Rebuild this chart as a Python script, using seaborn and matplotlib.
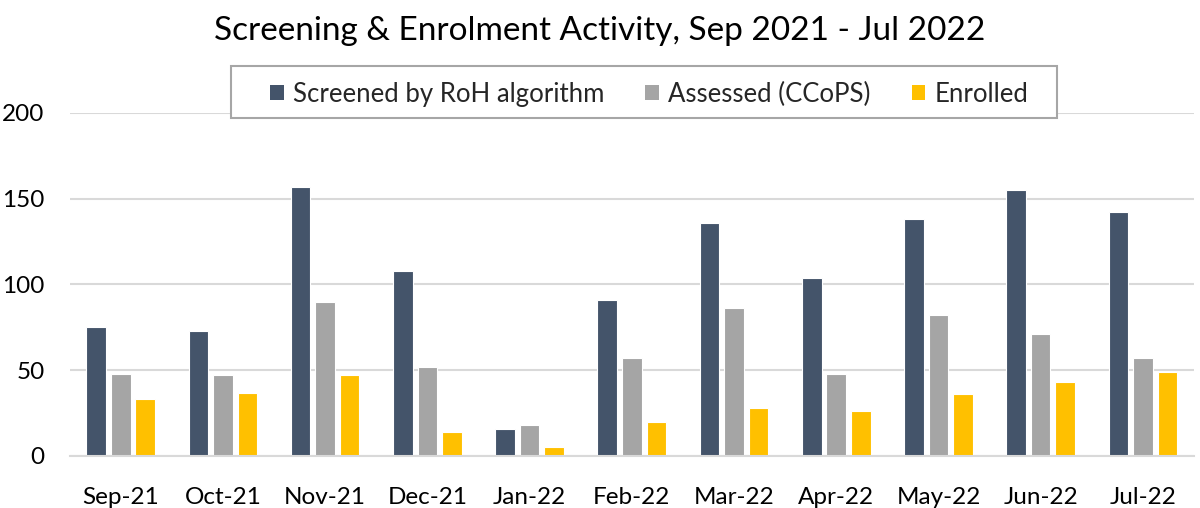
import matplotlib

matplotlib.use("Agg")
import matplotlib.pyplot as plt  # noqa: E402
import pandas as pd  # noqa: E402
import seaborn as sns  # noqa: E402
from matplotlib.patches import Rectangle  # noqa: E402

months = ["Sep-21", "Oct-21", "Nov-21", "Dec-21", "Jan-22", "Feb-22",
          "Mar-22", "Apr-22", "May-22", "Jun-22", "Jul-22"]
screened = [75, 73, 157, 108, 16, 91, 136, 104, 138, 155, 142]
assessed = [48, 47, 90, 52, 18, 57, 86, 48, 82, 71, 57]
enrolled = [33, 37, 47, 14, 5, 20, 28, 26, 36, 43, 49]
series = ["Screened by RoH algorithm", "Assessed (CCoPS)", "Enrolled"]
colors = ["#44546A", "#A5A5A5", "#FFC000"]

df = pd.DataFrame({
    "month": months * 3,
    "series": [s for s in series for _ in months],
    "value": screened + assessed + enrolled,
})

sns.set_theme(style="white")
plt.rcParams["font.family"] = ["Lato", "DejaVu Sans"]

fig = plt.figure(figsize=(12, 5.08), dpi=100)
ax = fig.add_axes([0.058, 0.1024, 0.937, 0.6752])

sns.barplot(data=df, x="month", y="value", hue="series", order=months,
            hue_order=series, palette=colors, saturation=1, width=0.72,
            gap=0.2, edgecolor="white", linewidth=0.8, ax=ax)

ax.set_ylim(0, 200)
ax.set_yticks([0, 50, 100, 150, 200])
ax.set_xlim(-0.5, len(months) - 0.5)
ax.yaxis.grid(True, color="#D9D9D9", lw=1.5)
ax.set_axisbelow(True)
for side in ["top", "right", "left"]:
    ax.spines[side].set_visible(False)
ax.spines["bottom"].set_color("#D9D9D9")
ax.spines["bottom"].set_linewidth(1.5)
ax.tick_params(axis="both", length=0, labelsize=17.5, colors="black")
ax.tick_params(axis="x", pad=22)
ax.tick_params(axis="y", pad=18)
ax.set_xlabel("")
ax.set_ylabel("")

# legend box drawn separately so its padding matches the original
handles, labels = ax.get_legend_handles_labels()
ax.get_legend().remove()
fig.patches.append(Rectangle((231 / 1200, 1 - 118 / 508), 826 / 1200, 52 / 508,
                             transform=fig.transFigure, facecolor="white",
                             edgecolor="#A6A6A6", lw=1.5, zorder=5))
leg = fig.legend(handles, labels, loc="center", bbox_to_anchor=(0.541, 0.815),
                 ncol=3, fontsize=18.5, frameon=False, handlelength=0.53,
                 handleheight=0.53, handletextpad=0.35, columnspacing=1.6,
                 borderpad=0.3)
leg.set_zorder(6)
for h in leg.legend_handles:
    h.set_edgecolor("none")

fig.text(0.5, 0.938, "Screening & Enrolment Activity, Sep 2021 - Jul 2022",
         ha="center", va="center", fontsize=24, color="black")

fig.savefig("out.png", dpi=100)
